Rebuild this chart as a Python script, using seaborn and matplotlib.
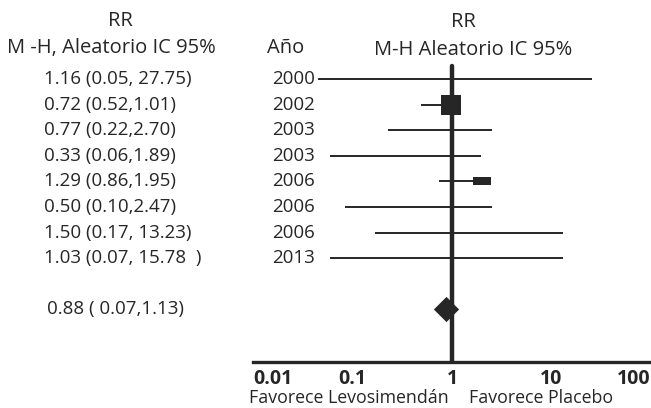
import numpy as np
import pandas as pd
import matplotlib
matplotlib.use("Agg")
import matplotlib.pyplot as plt
import matplotlib.transforms as mtransforms
import seaborn as sns

# Data
rr_text = ["1.16 (0.05, 27.75)", "0.72 (0.52,1.01)", "0.77 (0.22,2.70)",
           "0.33 (0.06,1.89)", "1.29 (0.86,1.95)", "0.50 (0.10,2.47)",
           "1.50 (0.17, 13.23)", "1.03 (0.07, 15.78  )"]
years = ["2000", "2002", "2003", "2003", "2006", "2006", "2006", "2013"]
# positions as drawn in the figure
rr_drawn = [1.16, 0.97, 0.77, 0.33, 2.0, 0.50, 1.50, 1.03]
ci_low = [0.045, 0.49, 0.23, 0.06, 0.74, 0.084, 0.17, 0.06]
ci_high = [25.3, 1.01, 2.5, 1.97, 2.0, 2.5, 13.1, 13.1]
weighted_rows = [1, 4]  # rows that show a weight box
pooled_text = "0.88 ( 0.07,1.13)"
pooled_rr = 0.87
xticks = [0.01, 0.1, 1, 10, 100]
xticklabels = ["0.01", "0.1", "1", "10", "100"]

sns.set_style("white")
plt.rcParams["font.family"] = ["Open Sans", "DejaVu Sans"]

W, H = 651, 408
fig = plt.figure(figsize=(W / 100, H / 100), dpi=100)
ax = fig.add_axes([253 / W, (H - 362) / H, (W - 253) / W, (362 - 60) / H])

dark = "#262626"
rows = np.arange(len(years))
pooled_row = 9

# study CI lines
ax.hlines(rows, ci_low, ci_high, color=dark, lw=1.4)

# weight boxes
df = pd.DataFrame({"rr": rr_drawn, "row": rows})
sns.scatterplot(data=df.iloc[[weighted_rows[0]]], x="rr", y="row", marker="s",
                s=190, color=dark, edgecolor=dark, linewidth=0, ax=ax, zorder=4)
flat_box = [(-1.2, -0.5), (1.2, -0.5), (1.2, 0.5), (-1.2, 0.5), (-1.2, -0.5)]
sns.scatterplot(data=df.iloc[[weighted_rows[1]]], x="rr", y="row", marker=flat_box,
                s=150, color=dark, edgecolor=dark, linewidth=0, ax=ax, zorder=4)

# pooled diamond
diamond = [(0, 1), (1, 0), (0, -1), (-1, 0), (0, 1)]
sns.scatterplot(x=[pooled_rr], y=[pooled_row], marker=diamond, s=330,
                color=dark, edgecolor=dark, linewidth=0, ax=ax, zorder=4)

# line of no effect
ax.axvline(1, ymin=0, ymax=(362 - 66) / (362 - 60), color=dark, lw=3.2, zorder=3)

ax.set_xscale("log")
ax.set_xlim(0.01, 100)
ax.set_ylim(11.05, -0.74)
ax.set_xticks(xticks)
ax.set_xticklabels(xticklabels, fontsize=14, fontweight="bold", color=dark)
ax.minorticks_off()
ax.set_yticks([])
ax.set_xlabel("")
ax.set_ylabel("")
ax.tick_params(axis="x", direction="in", length=4, width=2.2, color=dark, pad=5)
labels = ax.get_xticklabels()
labels[0].set_ha("left")
labels[-1].set_ha("right")
for side in ["top", "left", "right"]:
    ax.spines[side].set_visible(False)
ax.spines["bottom"].set_linewidth(2.4)
ax.spines["bottom"].set_color(dark)

# text columns
fs = 13.5
tr = mtransforms.blended_transform_factory(fig.transFigure, ax.transData)
for r, (t, yr) in enumerate(zip(rr_text, years)):
    ax.text(44 / W, r, t, transform=tr, ha="left", va="center", fontsize=fs, color=dark)
    ax.text(272 / W, r, yr, transform=tr, ha="left", va="center", fontsize=fs, color=dark)
ax.text(47 / W, pooled_row, pooled_text, transform=tr, ha="left", va="center",
        fontsize=fs, color=dark)

def fpos(x, y):
    return x / W, 1 - y / H

hs = 14.5
fig.text(*fpos(120, 21), "RR", ha="center", va="center", fontsize=hs, color=dark)
fig.text(*fpos(111, 48), "M -H, Aleatorio IC 95%", ha="center", va="center",
         fontsize=hs, color=dark)
fig.text(*fpos(286, 48), "Año", ha="center", va="center", fontsize=hs, color=dark)
fig.text(*fpos(463, 22), "RR", ha="center", va="center", fontsize=hs, color=dark)
fig.text(*fpos(473, 50), "M-H Aleatorio IC 95%", ha="center", va="center",
         fontsize=hs, color=dark)
fig.text(*fpos(349, 398), "Favorece Levosimendán", ha="center", va="center",
         fontsize=12.8, color=dark)
fig.text(*fpos(541, 398), "Favorece Placebo", ha="center", va="center",
         fontsize=12.8, color=dark)

fig.savefig("out.png", dpi=100, facecolor="white")
